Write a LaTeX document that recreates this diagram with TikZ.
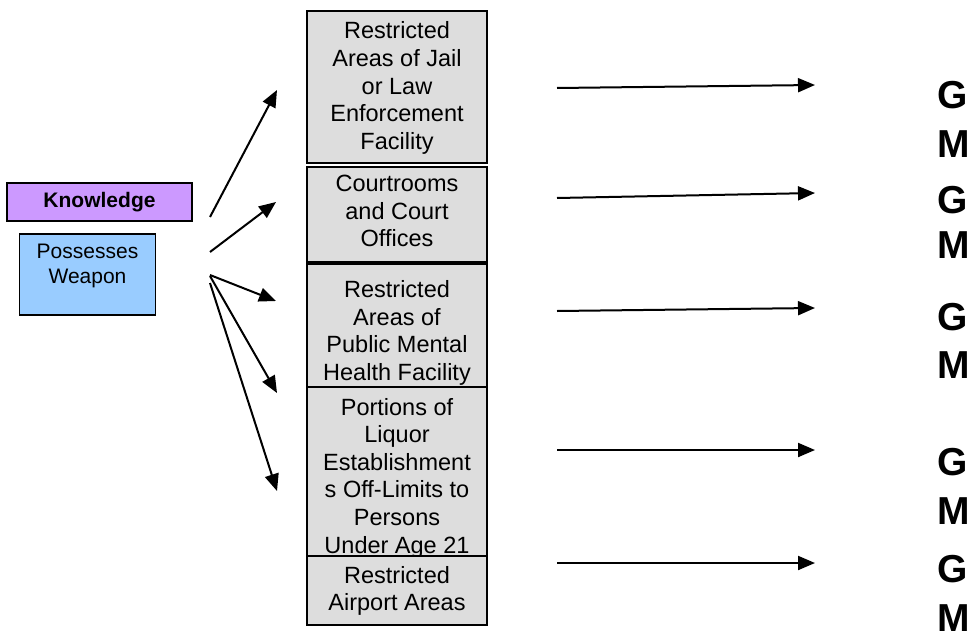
\documentclass[tikz,border=0pt]{standalone}
\usepackage{fontspec}
\setmainfont{Liberation Sans}
\usetikzlibrary{arrows.meta}
\definecolor{boxgray}{HTML}{DDDDDD}
\definecolor{knowpurple}{HTML}{CC99FF}
\definecolor{weaponblue}{HTML}{99CCFF}
\tikzset{
  frame/.style={draw=black, line width=1.5pt, inner sep=0pt},
  colbox/.style={frame, fill=boxgray, minimum width=180pt},
  coltext/.style={align=center, inner sep=0pt,
    font=\fontsize{23.5}{27.6}\selectfont},
  lefttext/.style={align=center, inner sep=0pt,
    font=\fontsize{21}{25}\selectfont},
  grade/.style={anchor=base west, inner sep=0pt, text depth=0pt,
    font=\fontsize{39}{44}\selectfont\bfseries},
  link/.style={line width=2pt, -{Triangle[length=17pt,width=14pt]}},
}
\begin{document}
\begin{tikzpicture}[x=1pt, y=-1pt]
\useasboundingbox (0,0) rectangle (974,637);

% left-hand elements
\node[frame, fill=knowpurple, minimum width=185pt, minimum height=38pt] (know) at (99.5,202) {};
\node[lefttext, font=\fontsize{21}{25}\selectfont\bfseries] (knowtxt) at (99.5,202) {Knowledge};
\node[frame, fill=weaponblue, minimum width=136pt, minimum height=81pt] (weapon) at (87.5,274.5) {};
\node[lefttext] (weapontxt) at (87.5,266) {Possesses\\Weapon};

% column of locations
\node[colbox, minimum height=152pt] (loc1) at (397,87) {};
\node[coltext] (loc1txt) at (397,88) {Restricted\\Areas of Jail\\or Law\\Enforcement\\Facility};
\node[colbox, minimum height=95pt] (loc2) at (397,214.5) {};
\node[coltext] (loc2txt) at (397,211) {Courtrooms\\and Court\\Offices};
\node[colbox, minimum height=123pt] (loc3) at (397,325.5) {};
\node[coltext] (loc3txt) at (397,333) {Restricted\\Areas of\\Public Mental\\Health Facility};
\node[colbox, minimum height=169pt] (loc4) at (397,471.5) {};
\node[coltext] (loc4txt) at (397,478) {Portions of\\Liquor\\Establishment\\s Off-Limits to\\Persons\\Under Age 21};
\node[colbox, minimum height=69pt] (loc5) at (397,590.5) {};
\node[coltext] (loc5txt) at (397,591) {Restricted\\Airport Areas};

% fan of arrows from the elements
\coordinate (f1s) at (210,217);   \coordinate (f1e) at (277,90);
\coordinate (f2s) at (210,252);   \coordinate (f2e) at (276,202);
\coordinate (f3s) at (210,275);   \coordinate (f3e) at (276,301);
\coordinate (f4s) at (210,276);   \coordinate (f4e) at (277,393);
\coordinate (f5s) at (210,283);   \coordinate (f5e) at (277,491);
\foreach \i in {1,...,5} \draw[link] (f\i s) -- (f\i e);

% arrows to the grades
\coordinate (r1s) at (557,88);    \coordinate (r1e) at (815,85);
\coordinate (r2s) at (557,198);   \coordinate (r2e) at (815,193);
\coordinate (r3s) at (557,311);   \coordinate (r3e) at (815,308);
\coordinate (r4s) at (557,450);   \coordinate (r4e) at (815,450);
\coordinate (r5s) at (557,563);   \coordinate (r5e) at (815,563);
\foreach \i in {1,...,5} \draw[link] (r\i s) -- (r\i e);

% grades
\node[grade] (g1) at (937,108) {G};
\node[grade] (m1) at (937,157) {M};
\node[grade] (g2) at (937,213) {G};
\node[grade] (m2) at (937,258) {M};
\node[grade] (g3) at (937,330) {G};
\node[grade] (m3) at (937,378) {M};
\node[grade] (g4) at (937,475) {G};
\node[grade] (m4) at (937,524) {M};
\node[grade] (g5) at (937,582) {G};
\node[grade] (m5) at (937,631) {M};
\end{tikzpicture}
\end{document}
